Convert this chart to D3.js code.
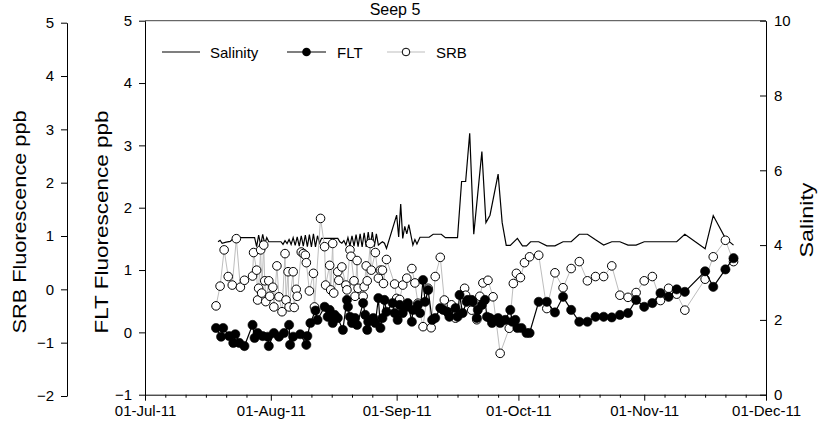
<!DOCTYPE html>
<html><head><meta charset="utf-8">
<script src="https://cdn.jsdelivr.net/npm/d3@7"></script>
<style>
body{margin:0;background:#fff}
text{font-family:"Liberation Sans",Arial,sans-serif;fill:#000}
</style>
</head><body>
<svg id="chart" width="824" height="426"></svg>
<script>
const chartTitle = "Seep 5";
const seriesNames = ["Salinity", "FLT", "SRB"];
const axisTitles = ["SRB Fluorescence ppb", "FLT Fluorescence ppb", "Salinity"];
const monthTicks = ["2011-07-01 00","2011-08-01 00","2011-09-01 00","2011-10-01 00","2011-11-01 00","2011-12-01 00"];
const fltTicks = [-1,0,1,2,3,4,5];
const srbTicks = [-2,-1,0,1,2,3,4,5];
const salTicks = [0,2,4,6,8,10];

const salinity = [
["2011-07-19 00",4.09],["2011-07-19 12",4.13],["2011-07-20 00",4.05],["2011-07-21 00",4.08],["2011-07-22 00",4.10],
["2011-07-23 00",4.20],["2011-07-27 00",4.20],["2011-07-28 00",4.20],["2011-07-28 12",3.96],["2011-07-29 00",4.27],
["2011-07-29 12",4.00],["2011-07-30 00",4.29],["2011-07-30 12",4.03],["2011-07-31 00",4.20],["2011-07-31 12",4.09],
["2011-08-03 12",4.09],["2011-08-04 00",4.02],["2011-08-04 12",4.12],["2011-08-05 00",4.04],["2011-08-05 12",4.15],
["2011-08-06 00",4.02],["2011-08-06 12",4.20],["2011-08-07 00",3.99],["2011-08-07 12",4.22],["2011-08-08 00",3.97],
["2011-08-08 12",4.25],["2011-08-09 00",3.97],["2011-08-09 12",4.27],["2011-08-10 00",3.96],["2011-08-10 12",4.28],
["2011-08-11 00",3.95],["2011-08-11 12",4.30],["2011-08-12 00",3.95],["2011-08-12 12",4.25],["2011-08-13 00",4.05],
["2011-08-13 12",4.18],["2011-08-17 12",4.18],["2011-08-18 00",4.09],["2011-08-18 12",4.05],["2011-08-19 00",4.12],
["2011-08-19 12",4.00],["2011-08-20 00",4.20],["2011-08-20 12",3.98],["2011-08-21 00",4.25],["2011-08-21 12",3.97],
["2011-08-22 00",4.28],["2011-08-22 12",3.96],["2011-08-23 00",4.30],["2011-08-23 12",3.95],["2011-08-24 00",4.33],
["2011-08-24 12",3.95],["2011-08-25 00",4.35],["2011-08-25 12",3.95],["2011-08-26 00",4.35],["2011-08-26 12",3.96],
["2011-08-27 00",4.30],["2011-08-27 12",4.00],["2011-08-28 00",4.05],["2011-08-28 12",4.09],["2011-08-29 00",4.05],
["2011-08-29 12",3.91],["2011-09-01 00",4.80],["2011-09-01 12",4.22],["2011-09-02 00",5.10],["2011-09-02 12",4.18],
["2011-09-03 00",4.50],["2011-09-03 12",4.30],["2011-09-04 00",4.55],["2011-09-05 00",4.00],["2011-09-05 12",4.15],
["2011-09-06 00",4.03],["2011-09-06 18",4.21],["2011-09-09 00",4.21],["2011-09-10 00",4.29],["2011-09-12 00",4.29],
["2011-09-13 00",4.20],["2011-09-16 00",4.20],["2011-09-17 00",5.70],["2011-09-18 00",5.70],["2011-09-19 00",6.99],
["2011-09-20 00",4.29],["2011-09-22 00",6.50],["2011-09-23 00",4.60],["2011-09-24 00",4.80],["2011-09-26 00",5.90],
["2011-09-27 00",4.60],["2011-09-28 00",3.99],["2011-09-29 00",3.99],["2011-09-30 18",4.18],["2011-10-02 00",3.98],
["2011-10-03 00",3.98],["2011-10-04 00",4.09],["2011-10-06 00",4.09],["2011-10-08 00",3.98],["2011-10-10 00",3.98],
["2011-10-12 00",4.09],["2011-10-14 00",4.09],["2011-10-16 00",4.29],["2011-10-18 00",4.29],["2011-10-20 00",4.14],
["2011-10-22 00",4.00],["2011-10-24 00",4.09],["2011-10-26 00",4.09],["2011-10-28 00",4.00],["2011-10-30 00",4.00],
["2011-11-01 00",4.09],["2011-11-03 00",4.09],["2011-11-05 00",4.09],["2011-11-07 00",4.09],["2011-11-09 00",4.09],
["2011-11-11 00",4.29],["2011-11-16 00",3.90],["2011-11-18 00",4.79],["2011-11-21 00",4.18],["2011-11-23 00",4.00]
];

const flt = [
["2011-07-18 12",0.07],["2011-07-19 18",-0.07],["2011-07-20 06",0.07],["2011-07-21 18",-0.06],["2011-07-22 18",-0.17],
["2011-07-23 06",-0.03],["2011-07-24 06",-0.17],["2011-07-25 12",-0.22],["2011-07-27 12",0.12],["2011-07-28 00",-0.09],
["2011-07-28 18",-0.01],["2011-07-30 00",-0.06],["2011-07-31 06",-0.07],["2011-07-31 12",-0.22],["2011-08-01 18",-0.01],
["2011-08-03 00",-0.07],["2011-08-04 06",-0.01],["2011-08-05 12",0.12],["2011-08-05 18",-0.20],["2011-08-06 12",-0.07],
["2011-08-08 06",-0.03],["2011-08-09 18",-0.20],["2011-08-10 00",-0.06],["2011-08-10 18",0.15],["2011-08-12 00",0.35],
["2011-08-12 12",0.20],["2011-08-14 06",0.41],["2011-08-15 00",0.25],["2011-08-15 12",0.36],["2011-08-16 06",0.15],
["2011-08-16 18",0.28],["2011-08-17 12",0.23],["2011-08-18 18",0.04],["2011-08-19 18",0.52],["2011-08-20 00",0.41],
["2011-08-20 12",0.25],["2011-08-21 00",0.15],["2011-08-21 18",0.23],["2011-08-22 06",0.12],["2011-08-23 18",0.47],
["2011-08-24 06",0.28],["2011-08-24 18",0.04],["2011-08-25 00",0.17],["2011-08-26 06",0.23],["2011-08-26 18",0.15],
["2011-08-27 12",0.55],["2011-08-28 00",0.07],["2011-08-28 12",0.23],["2011-08-29 00",0.52],["2011-08-29 12",0.33],
["2011-08-31 00",0.47],["2011-08-31 12",0.31],["2011-09-01 06",0.20],["2011-09-01 18",0.44],["2011-09-02 12",0.31],
["2011-09-03 12",0.41],["2011-09-03 18",0.47],["2011-09-04 18",0.17],["2011-09-05 00",0.36],["2011-09-06 06",0.44],
["2011-09-06 18",0.31],["2011-09-07 12",0.84],["2011-09-08 00",0.49],["2011-09-08 18",0.68],["2011-09-09 18",0.20],
["2011-09-10 12",0.23],["2011-09-11 18",0.39],["2011-09-12 12",0.36],["2011-09-13 12",0.33],["2011-09-14 00",0.25],
["2011-09-15 12",0.39],["2011-09-16 00",0.25],["2011-09-16 12",0.60],["2011-09-17 06",0.31],["2011-09-18 06",0.49],
["2011-09-18 12",0.52],["2011-09-19 12",0.52],["2011-09-19 18",0.49],["2011-09-20 18",0.23],["2011-09-21 00",0.36],
["2011-09-22 00",0.44],["2011-09-22 18",0.52],["2011-09-23 06",0.25],["2011-09-24 00",0.23],["2011-09-24 12",0.15],
["2011-09-25 06",0.20],["2011-09-26 00",0.23],["2011-09-26 12",0.15],["2011-09-27 18",0.20],["2011-09-29 00",0.36],
["2011-09-29 12",0.17],["2011-09-30 06",0.20],["2011-09-30 18",0.07],["2011-10-01 18",0.07],["2011-10-03 00",-0.01],
["2011-10-03 18",-0.01],["2011-10-06 00",0.49],["2011-10-08 00",0.49],["2011-10-10 00",0.32],["2011-10-12 00",0.57],
["2011-10-14 00",0.36],["2011-10-16 00",0.17],["2011-10-18 00",0.17],["2011-10-20 00",0.25],["2011-10-22 00",0.25],
["2011-10-24 00",0.24],["2011-10-26 00",0.28],["2011-10-28 00",0.31],["2011-10-30 00",0.52],["2011-11-01 00",0.41],
["2011-11-03 00",0.47],["2011-11-05 00",0.63],["2011-11-07 00",0.57],["2011-11-09 00",0.69],["2011-11-11 00",0.65],
["2011-11-16 00",0.98],["2011-11-18 00",0.73],["2011-11-21 00",1.01],["2011-11-23 00",1.19]
];

const srb = [
["2011-07-18 12",-0.31],["2011-07-19 12",0.06],["2011-07-20 12",0.74],["2011-07-21 12",0.24],["2011-07-22 12",0.08],
["2011-07-23 12",0.95],["2011-07-24 12",0.04],["2011-07-25 12",0.17],["2011-07-27 12",0.25],["2011-07-27 18",0.69],
["2011-07-28 12",0.36],["2011-07-28 18",-0.20],["2011-07-29 00",0.02],["2011-07-29 12",0.74],["2011-07-29 18",-0.07],
["2011-07-30 06",0.83],["2011-07-30 12",0.16],["2011-07-30 18",-0.23],["2011-07-31 12",0.16],["2011-07-31 18",-0.13],
["2011-08-01 12",0.04],["2011-08-01 18",-0.33],["2011-08-02 12",0.44],["2011-08-03 00",-0.14],["2011-08-03 18",-0.42],
["2011-08-04 12",0.67],["2011-08-04 18",-0.20],["2011-08-05 06",0.33],["2011-08-05 12",-0.33],["2011-08-06 12",0.33],
["2011-08-06 18",-0.34],["2011-08-07 06",0.00],["2011-08-07 12",-0.13],["2011-08-08 12",0.70],["2011-08-09 00",0.67],
["2011-08-09 12",0.64],["2011-08-09 18",0.50],["2011-08-10 12",-0.03],["2011-08-11 12",0.30],["2011-08-11 18",-0.33],
["2011-08-13 06",1.33],["2011-08-14 06",0.80],["2011-08-14 12",0.08],["2011-08-15 12",0.45],["2011-08-15 18",-0.01],
["2011-08-16 06",0.86],["2011-08-16 12",-0.07],["2011-08-17 12",0.33],["2011-08-17 18",0.17],["2011-08-18 12",0.42],
["2011-08-19 12",0.08],["2011-08-19 18",-0.01],["2011-08-20 12",0.74],["2011-08-20 18",0.62],["2011-08-21 12",0.16],
["2011-08-21 18",-0.13],["2011-08-22 06",0.54],["2011-08-22 12",0.02],["2011-08-23 18",-0.13],["2011-08-24 00",0.05],
["2011-08-24 12",0.44],["2011-08-24 18",0.16],["2011-08-25 12",0.86],["2011-08-25 18",0.36],["2011-08-26 18",0.69],
["2011-08-27 12",0.21],["2011-08-28 00",0.36],["2011-08-28 12",0.36],["2011-08-28 18",0.11],["2011-08-29 12",0.56],
["2011-08-31 12",0.10],["2011-09-01 00",-0.17],["2011-09-01 18",-0.19],["2011-09-02 12",0.08],["2011-09-03 12",0.21],
["2011-09-04 18",0.39],["2011-09-05 12",0.12],["2011-09-06 06",-0.26],["2011-09-07 12",-0.70],["2011-09-08 18",0.02],
["2011-09-09 12",-0.72],["2011-09-10 12",0.24],["2011-09-11 18",0.60],["2011-09-12 18",-0.20],["2011-09-13 18",-0.45],
["2011-09-14 12",-0.29],["2011-09-15 12",-0.54],["2011-09-17 18",0.02],["2011-09-18 00",-0.11],["2011-09-19 12",-0.39],
["2011-09-20 18",-0.57],["2011-09-21 12",-0.13],["2011-09-22 06",0.12],["2011-09-23 12",0.17],["2011-09-24 18",-0.14],
["2011-09-26 12",-1.20],["2011-09-28 18",-0.73],["2011-09-29 18",0.11],["2011-09-30 12",0.30],["2011-10-01 12",0.22],
["2011-10-02 12",0.50],["2011-10-03 18",0.61],["2011-10-06 00",0.64],["2011-10-08 00",-0.36],["2011-10-10 00",0.31],
["2011-10-12 00",0.03],["2011-10-14 00",0.39],["2011-10-16 00",0.52],["2011-10-18 00",0.16],["2011-10-20 00",0.24],
["2011-10-22 00",0.24],["2011-10-24 00",0.44],["2011-10-26 00",-0.11],["2011-10-28 00",-0.15],["2011-10-30 00",-0.06],
["2011-11-01 00",0.16],["2011-11-03 00",0.24],["2011-11-05 00",-0.21],["2011-11-07 00",0.02],["2011-11-09 00",-0.09],
["2011-11-11 00",-0.39],["2011-11-16 00",0.19],["2011-11-18 00",0.61],["2011-11-21 00",0.92],["2011-11-23 00",0.52]
];

const parse = d3.timeParse("%Y-%m-%d %H");
const svg = d3.select("#chart");
const L = 145, R = 766, T = 20.7, B = 394.7;

const x = d3.scaleTime().domain([parse(monthTicks[0]), parse(monthTicks[monthTicks.length-1])]).range([L, R]);
const yFlt = d3.scaleLinear().domain([-1, 5]).range([B, T]);
const ySrb = d3.scaleLinear().domain([-2, 5]).range([396, 22.7]);
const ySal = d3.scaleLinear().domain([0, 10]).range([B, T]);

function styleAxis(g, fs){
  g.selectAll("path").attr("stroke","#000").attr("stroke-width",1);
  g.selectAll("line").attr("stroke","#000").attr("stroke-width",1);
  g.selectAll("text").attr("font-size",fs || 14).attr("font-family",'"Liberation Sans",Arial,sans-serif').attr("fill","#000");
}

// Title at the very top, as in the reference
svg.append("text").attr("x",395).attr("y",15).attr("text-anchor","middle")
  .attr("font-size",16).text(chartTitle);

// top frame line
svg.append("line").attr("x1",L).attr("x2",R).attr("y1",T).attr("y2",T).attr("stroke","#444").attr("stroke-width",1);

// x axis
const fmt = d3.timeFormat("%d-%b-%y");
const minor = d3.timeDay.every(1).range(x.domain()[0], x.domain()[1]).filter(d => [6,11,16,21,26].includes(d.getDate()));
svg.append("g").attr("transform",`translate(0,${B})`)
  .call(d3.axisBottom(x).tickValues(minor).tickSize(3).tickFormat(""))
  .call(g => styleAxis(g)).select(".domain").remove();
svg.append("g").attr("transform",`translate(0,${B})`)
  .call(d3.axisBottom(x).tickValues(monthTicks.map(parse)).tickFormat(fmt).tickSizeInner(6).tickSizeOuter(0).tickPadding(5))
  .call(g => styleAxis(g, 15));

// FLT axis
svg.append("g").attr("transform",`translate(${L},0)`)
  .call(d3.axisLeft(yFlt).tickValues(fltTicks).tickFormat(d3.format("d")).tickSizeInner(6).tickSizeOuter(0).tickPadding(7))
  .call(g => styleAxis(g, 15));
// SRB axis
svg.append("g").attr("transform",`translate(67,0)`)
  .call(d3.axisLeft(ySrb).tickValues(srbTicks).tickFormat(d3.format("d")).tickSizeInner(6).tickSizeOuter(0).tickPadding(7))
  .call(g => styleAxis(g, 15));
// Salinity axis
svg.append("g").attr("transform",`translate(${R},0)`)
  .call(d3.axisRight(ySal).tickValues(salTicks).tickFormat(d3.format("d")).tickSizeInner(-6).tickSizeOuter(0).tickPadding(8))
  .call(g => styleAxis(g, 15));

// axis titles
function vTitle(txt, cx, cy, len){
  svg.append("text").attr("transform",`translate(${cx},${cy}) rotate(-90)`)
    .attr("text-anchor","middle").attr("dominant-baseline","central")
    .attr("font-size",19).attr("textLength",len).attr("lengthAdjust","spacingAndGlyphs").text(txt);
}
vTitle(axisTitles[0], 19, 222, 223);
vTitle(axisTitles[1], 101, 222, 223);
vTitle(axisTitles[2], 806, 220, 75);

// Salinity line
const salData = salinity.map(d => ({t: parse(d[0]), v: d[1]}));
svg.append("path").datum(salData)
  .attr("d", d3.line().x(d => x(d.t)).y(d => ySal(d.v)))
  .attr("fill","none").attr("stroke","#000").attr("stroke-width",1.2);

// SRB
const srbData = srb.map(d => ({t: parse(d[0]), v: d[1]}));
svg.append("path").datum(srbData)
  .attr("d", d3.line().x(d => x(d.t)).y(d => ySrb(d.v)))
  .attr("fill","none").attr("stroke","#bdbdbd").attr("stroke-width",1);
svg.append("g").selectAll("circle").data(srbData).join("circle")
  .attr("cx", d => x(d.t)).attr("cy", d => ySrb(d.v)).attr("r",4.3)
  .attr("fill","#fff").attr("stroke","#000").attr("stroke-width",1);

// FLT
const fltData = flt.map(d => ({t: parse(d[0]), v: d[1]}));
svg.append("path").datum(fltData)
  .attr("d", d3.line().x(d => x(d.t)).y(d => yFlt(d.v)))
  .attr("fill","none").attr("stroke","#000").attr("stroke-width",1.2);
svg.append("g").selectAll("circle").data(fltData).join("circle")
  .attr("cx", d => x(d.t)).attr("cy", d => yFlt(d.v)).attr("r",4.6)
  .attr("fill","#000").attr("stroke","#000").attr("stroke-width",0.6);

// Legend
const lg = svg.append("g");
const ly = 52;
const items = [
  {name: seriesNames[0], x0: 162, x1: 200, tx: 210, stroke: "#000", marker: null},
  {name: seriesNames[1], x0: 287, x1: 326, tx: 337, stroke: "#000", marker: "filled"},
  {name: seriesNames[2], x0: 387, x1: 425, tx: 436, stroke: "#bdbdbd", marker: "open"}
];
items.forEach(it => {
  lg.append("line").attr("x1",it.x0).attr("x2",it.x1).attr("y1",ly).attr("y2",ly)
    .attr("stroke",it.stroke).attr("stroke-width",1.2);
  if (it.marker === "filled")
    lg.append("circle").attr("cx",(it.x0+it.x1)/2).attr("cy",ly).attr("r",4.3).attr("fill","#000");
  if (it.marker === "open")
    lg.append("circle").attr("cx",(it.x0+it.x1)/2).attr("cy",ly).attr("r",3.8).attr("fill","#fff").attr("stroke","#000");
  lg.append("text").attr("x",it.tx).attr("y",ly).attr("dominant-baseline","central")
    .attr("font-size",15).text(it.name);
});
</script>
</body></html>
